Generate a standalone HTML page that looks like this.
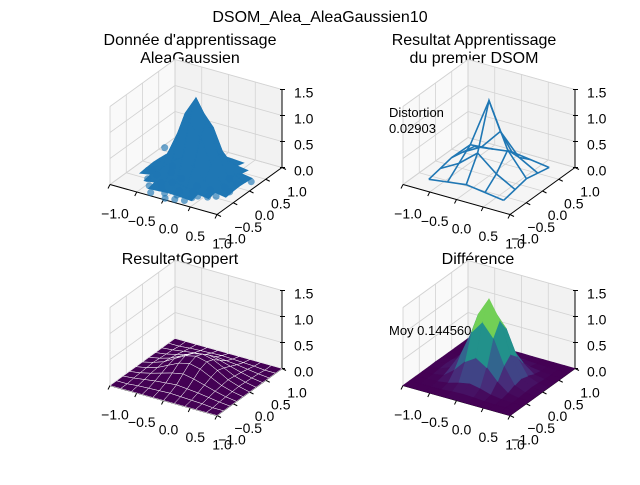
<!DOCTYPE html>
<html><head><meta charset="utf-8"><style>
body{margin:0;background:#fff;}
svg text{font-family:"Liberation Sans",sans-serif;fill:#000;}
</style></head><body>
<svg id="fig" width="640" height="480" viewBox="0 0 640 480" xmlns="http://www.w3.org/2000/svg">
<rect width="640" height="480" fill="#fff"/>
<text x="320" y="22" font-size="16" text-anchor="middle">DSOM_Alea_AleaGaussien10</text>
<text x="190" y="45" font-size="16" text-anchor="middle">Donnée d'apprentissage</text>
<text x="190" y="63" font-size="16" text-anchor="middle">AleaGaussien</text>
<text x="474" y="45" font-size="16" text-anchor="middle">Resultat Apprentissage</text>
<text x="474" y="63" font-size="16" text-anchor="middle">du premier DSOM</text>
<text x="180" y="264" font-size="16" text-anchor="middle">ResultatGoppert</text>
<text x="478" y="264" font-size="16" text-anchor="middle">Différence</text>
</svg>
<script>
const gridX = [-1,-0.8,-0.6,-0.4,-0.2,0,0.2,0.4,0.6,0.8,1];
const gaussZ = [
[0,0,0,0,0,0.005,0,0,0,0,0],
[0,0,0,0.005,0.02,0.03,0.02,0.005,0,0,0],
[0,0,0.01,0.04,0.1,0.14,0.1,0.04,0.01,0,0],
[0,0.005,0.04,0.2,0.42,0.55,0.42,0.2,0.04,0.005,0],
[0,0.02,0.1,0.42,0.9,1.15,0.9,0.42,0.1,0.02,0],
[0.005,0.03,0.14,0.55,1.15,1.5,1.15,0.55,0.14,0.03,0.005],
[0,0.02,0.1,0.42,0.9,1.15,0.9,0.42,0.1,0.02,0],
[0,0.005,0.04,0.2,0.42,0.55,0.42,0.2,0.04,0.005,0],
[0,0,0.01,0.04,0.1,0.14,0.1,0.04,0.01,0,0],
[0,0,0,0.005,0.02,0.03,0.02,0.005,0,0,0],
[0,0,0,0,0,0.005,0,0,0,0,0]];
const goppZ = [
[0,0,0,0,0,0,0,0,0,0,0],
[0,0,0.02,0.03,0.04,0.05,0.04,0.03,0.02,0,0],
[0,0.02,0.05,0.08,0.1,0.12,0.1,0.08,0.05,0.02,0],
[0,0.03,0.08,0.14,0.2,0.24,0.2,0.14,0.08,0.03,0],
[0,0.04,0.1,0.2,0.3,0.35,0.3,0.2,0.1,0.04,0],
[0,0.05,0.12,0.24,0.35,0.4,0.35,0.24,0.12,0.05,0],
[0,0.04,0.1,0.2,0.3,0.35,0.3,0.2,0.1,0.04,0],
[0,0.03,0.08,0.14,0.2,0.24,0.2,0.14,0.08,0.03,0],
[0,0.02,0.05,0.08,0.1,0.12,0.1,0.08,0.05,0.02,0],
[0,0,0.02,0.03,0.04,0.05,0.04,0.03,0.02,0,0],
[0,0,0,0,0,0,0,0,0,0,0]];
const scatterX = [-0.95,-0.7,-0.6,-0.5,-0.45,-0.3,-0.2,-0.1,0.05,0.15,0.25,0.35,0.45,0.5,0.6,0.7,-0.55,-0.35,-0.15,0.1,0.3,0.55,0.75,-0.4,0,0.2,0.4,-0.25,0.65,0.85];
const scatterY = [0.6,-0.2,-0.5,0.1,-0.7,-0.9,-0.4,-0.8,-0.6,-0.9,-0.5,-0.7,-0.3,0.2,-0.1,0.1,-0.3,-0.5,-0.2,-0.75,-0.85,-0.55,-0.2,-0.1,-0.95,-0.3,-0.6,-0.65,-0.45,0.3];
const meshX = [-0.7,-0.35,0,0.35,0.7];
const meshZ = [
[0.05,0.1,0.15,0.1,0.05],
[0.1,0.3,0.6,0.3,0.1],
[0.15,0.5,1.45,0.6,0.15],
[0.1,0.3,0.7,0.3,0.1],
[0.05,0.1,0.15,0.1,0.05]];
const xTicks = [-1,-0.5,0,0.5,1];
const xTickLabels = ["\u22121.0","\u22120.5","0.0","0.5","1.0"];
const zTicks = [0,0.5,1,1.5];
const zTickLabels = ["0.0","0.5","1.0","1.5"];

const NS="http://www.w3.org/2000/svg";
const svg=document.getElementById('fig');
function mk(tag,attrs,parent){const e=document.createElementNS(NS,tag);for(const k in attrs)e.setAttribute(k,attrs[k]);(parent||svg).appendChild(e);return e;}
const viridis=[[68,1,84],[72,40,120],[62,74,137],[49,104,142],[38,130,142],[31,158,137],[53,183,121],[110,206,88],[181,222,43],[253,231,37]];
function vcol(t){t=Math.max(0,Math.min(1,t))*(viridis.length-1);const i=Math.min(Math.floor(t),viridis.length-2),f=t-i;const c=viridis[i].map((v,k)=>Math.round(v+(viridis[i+1][k]-v)*f));return `rgb(${c[0]},${c[1]},${c[2]})`;}

function panel(ox,oy,name){
  const g=mk('g',{});
  
  
  const P=(x,y,z)=>[196+ox+53.5*x+32.5*y,176+oy+15*x-23.5*y-52*z];
  const pts=a=>a.map(p=>P(...p).join(',')).join(' ');
  const lp=mk('polygon',{points:pts([[-1,-1,0],[-1,1,0],[-1,1,1.5],[-1,-1,1.5]]),fill:'#f9f9f9',stroke:'#f0f0f0'},g);
  
  const bp=mk('polygon',{points:pts([[-1,1,0],[1,1,0],[1,1,1.5],[-1,1,1.5]]),fill:'#f2f2f2',stroke:'#ececec'},g);
  
  const fp=mk('polygon',{points:pts([[-1,-1,0],[1,-1,0],[1,1,0],[-1,1,0]]),fill:'#f5f5f5',stroke:'#eeeeee'},g);
  
  const line=(a,b,c,w)=>{const p=P(...a),q=P(...b);return mk('line',{x1:p[0],y1:p[1],x2:q[0],y2:q[1],stroke:c,'stroke-width':w},g);};
  xTicks.forEach(t=>{
    let l=line([t,-1,0],[t,1,0],'#d2d2d2',0.8);
    l=line([-1,t,0],[1,t,0],'#d2d2d2',0.8);
    l=line([t,1,0],[t,1,1.5],'#d2d2d2',0.8);
    l=line([-1,t,0],[-1,t,1.5],'#d2d2d2',0.8);
  });
  zTicks.forEach(t=>{
    let l=line([-1,-1,t],[-1,1,t],'#d2d2d2',0.8);
    l=line([-1,1,t],[1,1,t],'#d2d2d2',0.8);
  });
  let a=line([-1,-1,0],[1,-1,0],'#000',1);
  a=line([1,-1,0],[1,1,0],'#000',1);
  a=line([1,1,0],[1,1,1.5],'#000',1);
  xTicks.forEach((t,i)=>{
    let p=P(t,-1,0);
    let tk=mk('line',{x1:p[0],y1:p[1],x2:p[0]-2,y2:p[1]+4,stroke:'#000'},g);
    
    let tx=mk('text',{x:p[0]+5,y:p[1]+34,'font-size':14,'text-anchor':'middle'},g);tx.textContent=xTickLabels[i];
    
    p=P(1,t,0);
    tk=mk('line',{x1:p[0],y1:p[1],x2:p[0]+4,y2:p[1]+2,stroke:'#000'},g);
    
    tx=mk('text',{x:p[0]+15,y:p[1]+29,'font-size':14,'text-anchor':'middle'},g);tx.textContent=xTickLabels[i];
    
  });
  zTicks.forEach((t,i)=>{
    const p=P(1,1,t);
    const tk=mk('line',{x1:p[0]-2,y1:p[1],x2:p[0]+3,y2:p[1],stroke:'#000'},g);
    
    const tx=mk('text',{x:p[0]+12,y:p[1]+8,'font-size':14},g);tx.textContent=zTickLabels[i];
    
  });
  return {g,P};
}
function surface(pn,Z,fillFn,stroke,sw,name){
  const quads=[];
  for(let i=0;i<gridX.length-1;i++)for(let j=0;j<gridX.length-1;j++){
    const c=[[i,j],[i+1,j],[i+1,j+1],[i,j+1]].map(([a,b])=>[gridX[a],gridX[b],Z[b][a]]);
    const cx=c.reduce((s,p)=>s+p[0],0)/4,cy=c.reduce((s,p)=>s+p[1],0)/4,cz=c.reduce((s,p)=>s+p[2],0)/4;
    quads.push({c,d:0.43*cx-0.75*cy+0.5*cz,z:cz});
  }
  quads.sort((a,b)=>a.d-b.d);
  quads.forEach(q=>{
    const f=fillFn(q.z);
    const e=mk('polygon',{points:q.c.map(p=>pn.P(...p).join(',')).join(' '),fill:f,stroke:stroke||f,'stroke-width':sw},pn.g);
    
    
  });
}
// Top-left
const p1=panel(0,0,'panel-training-data');
surface(p1,gaussZ,z=> z>0.03?'#1f77b4':'none',null,1,'scatter-surface');
scatterX.forEach((x,i)=>{
  const p=p1.P(x,scatterY[i],0);
  const c=mk('circle',{cx:p[0],cy:p[1],r:3.5,fill:'#1f77b4','fill-opacity':0.65},p1.g);
  
});
// Top-right
const p2=panel(293,0,'panel-dsom-result');
for(let i=0;i<meshX.length;i++){
  const r=[],c=[];
  for(let j=0;j<meshX.length;j++){r.push(p2.P(meshX[j],meshX[i],meshZ[i][j]).join(','));c.push(p2.P(meshX[i],meshX[j],meshZ[j][i]).join(','));}
  let l=mk('polyline',{points:r.join(' '),fill:'none',stroke:'#1f77b4','stroke-width':1.6},p2.g);
  
  l=mk('polyline',{points:c.join(' '),fill:'none',stroke:'#1f77b4','stroke-width':1.6},p2.g);
  
}
let t=mk('text',{x:389,y:117,'font-size':13},p2.g);t.textContent='Distortion';

t=mk('text',{x:389,y:133,'font-size':13},p2.g);t.textContent='0.02903';

// Bottom-left
const p3=panel(0,201,'panel-goppert');
surface(p3,goppZ,()=> '#440154','#ffffff',0.5,'goppert-cell');
// Bottom-right
const p4=panel(293,201,'panel-difference');
surface(p4,gaussZ,z=>vcol(z/1.5),null,0.6,'difference-cell');
t=mk('text',{x:389,y:335,'font-size':13},p4.g);t.textContent='Moy 0.144560';

</script>
</body></html>
